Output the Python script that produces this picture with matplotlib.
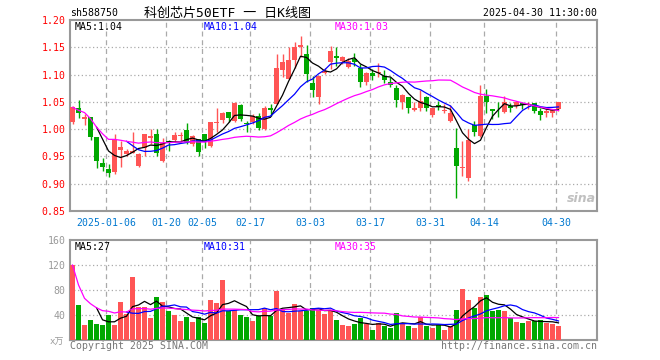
import matplotlib
matplotlib.use("Agg")
import matplotlib.pyplot as plt
import numpy as np
import pandas as pd

# trading days 2024-12-26 .. 2025-04-30
holidays = ['2025-01-01', '2025-01-28', '2025-01-29', '2025-01-30', '2025-01-31',
            '2025-02-03', '2025-02-04', '2025-04-04']
days = pd.bdate_range('2024-12-26', '2025-04-30')
days = days[~days.isin(pd.to_datetime(holidays))]

opens = [1.013, 1.038, 1.019, 1.022, 0.986, 0.938, 0.927, 0.921, 0.962, 0.955,
         0.957, 0.933, 0.965, 0.983, 0.991, 0.941, 0.979, 0.9805, 0.987, 0.998,
         0.972, 0.982, 0.991, 0.9695, 1.0116, 1.0165, 1.0317, 1.0152, 1.044, 1.0116,
         1.0122, 1.0232, 1.000, 1.039, 1.0463, 1.109, 1.092, 1.1274, 1.150, 1.1378,
         1.0841, 1.0585, 1.1024, 1.1226, 1.1335, 1.1256, 1.1134, 1.1287, 1.1116, 1.0859,
         1.103, 1.1031, 1.098, 1.0859, 1.0755, 1.049, 1.0583, 1.0356, 1.038, 1.0583,
         1.0264, 1.0442, 1.0337, 1.0153, 0.965, 0.929, 0.911, 1.0073, 0.987, 1.0604,
         1.0378, 1.0427, 1.031, 1.042, 1.042, 1.047, 1.044, 1.047, 1.033, 1.030,
         1.030, 1.036]
highs = [1.042, 1.053, 1.027, 1.022, 0.986, 0.948, 0.936, 0.992, 0.979, 0.963,
         0.995, 0.956, 0.992, 1.000, 1.000, 0.984, 0.980, 0.994, 0.995, 1.011,
         0.989, 0.982, 0.991, 1.0134, 1.0396, 1.0317, 1.0317, 1.050, 1.046, 1.015,
         1.0275, 1.029, 1.0415, 1.0463, 1.1378, 1.1378, 1.150, 1.159, 1.170, 1.1543,
         1.0982, 1.0982, 1.1116, 1.153, 1.150, 1.1335, 1.130, 1.1396, 1.1195, 1.104,
         1.1104, 1.1209, 1.1086, 1.095, 1.0816, 1.0644, 1.0595, 1.049, 1.0718, 1.060,
         1.0387, 1.051, 1.046, 1.0448, 1.0018, 0.978, 1.0006, 1.0146, 1.0805, 1.0738,
         1.0378, 1.0494, 1.0616, 1.047, 1.051, 1.050, 1.049, 1.047, 1.038, 1.036,
         1.037, 1.050]
lows = [1.010, 1.021, 1.008, 0.980, 0.928, 0.924, 0.912, 0.918, 0.931, 0.951,
        0.957, 0.931, 0.950, 0.972, 0.950, 0.940, 0.960, 0.9756, 0.977, 0.9726,
        0.9695, 0.951, 0.9646, 0.968, 0.9939, 1.0104, 1.0134, 1.014, 1.0152, 0.9939,
        1.009, 0.9988, 0.9988, 1.0238, 1.046, 1.095, 1.092, 1.1116, 1.1317, 1.086,
        1.0598, 1.0463, 1.101, 1.110, 1.1165, 1.1195, 1.1116, 1.1165, 1.0768, 1.0816,
        1.0908, 1.0963, 1.084, 1.0767, 1.041, 1.0368, 1.0294, 1.0337, 1.0337, 1.0337,
        1.0227, 1.035, 1.0294, 1.0135, 0.873, 0.914, 0.905, 0.987, 0.986, 1.0299,
        1.019, 1.0226, 1.0299, 1.031, 1.039, 1.037, 1.037, 1.030, 1.0165, 1.0226,
        1.0226, 1.034]
closes = [1.040, 1.029, 1.022, 0.986, 0.942, 0.930, 0.920, 0.981, 0.967, 0.960,
          0.960, 0.955, 0.991, 0.988, 0.956, 0.974, 0.976, 0.989, 0.988, 0.977,
          0.988, 0.959, 0.977, 1.0134, 1.014, 1.0293, 1.0213, 1.0476, 1.018, 1.0098,
          1.0232, 1.0018, 1.0384, 1.0354, 1.112, 1.1238, 1.127, 1.150, 1.155, 1.1012,
          1.0726, 1.0982, 1.1073, 1.1439, 1.130, 1.1317, 1.1256, 1.1226, 1.0872, 1.103,
          1.098, 1.1043, 1.0908, 1.0816, 1.054, 1.0626, 1.038, 1.0387, 1.0509, 1.038,
          1.0387, 1.0399, 1.035, 1.0294, 0.9325, 0.930, 0.981, 0.9945, 1.0604, 1.0494,
          1.033, 1.0415, 1.0494, 1.039, 1.050, 1.044, 1.0463, 1.033, 1.0256, 1.034,
          1.036, 1.050]
# volume, 万
volumes = [120, 56, 24, 32, 25.6, 24, 40, 24, 61, 41,
           101, 53, 53, 35, 69, 61, 47, 40, 31, 37,
           29, 37, 27, 64, 59, 96, 47, 48, 40, 37,
           30, 38, 51, 38, 79, 48, 43, 57, 46, 47,
           52, 48, 42, 48, 32, 24, 22.4, 25.6, 35, 25.6,
           16, 27, 22.4, 19, 43, 25.6, 22.4, 19, 37, 22,
           19, 24, 16, 22.4, 48, 81.6, 64, 51, 69, 72,
           46, 48, 46, 35, 29, 27, 31, 30, 32, 27,
           25.6, 22.4]

tick_dates = ['2025-01-06', '2025-01-20', '2025-02-05', '2025-02-17', '2025-03-03',
              '2025-03-17', '2025-03-31', '2025-04-14', '2025-04-30']
tick_labels = ['2025-01-06', '01-20', '02-05', '02-17', '03-03', '03-17', '03-31', '04-14', '04-30']
price_ticks = [0.85, 0.90, 0.95, 1.00, 1.05, 1.10, 1.15, 1.20]
vol_ticks = [40, 80, 120, 160]
price_ma_text = ['MA5:1.04', 'MA10:1.04', 'MA30:1.03']
vol_ma_text = ['MA5:27', 'MA10:31', 'MA30:35']

RED = '#FF5555'
GREEN = '#00A800'
GRAY = '#999999'
MONO = 'DejaVu Sans Mono'
FS = 7.1

o = np.array(opens); h = np.array(highs); l = np.array(lows); c = np.array(closes)
v = np.array(volumes)
x = np.arange(len(c))
up = c >= o
cols = np.where(up, RED, GREEN)

pc = pd.Series(c)
ma5 = pc.rolling(5).mean()
ma10 = pc.rolling(10).mean()
ma30 = pc.rolling(30, min_periods=1).mean()
pv = pd.Series(v)
vma5 = pv.rolling(5).mean()
vma10 = pv.rolling(10).mean()
vma30 = pv.rolling(30, min_periods=1).mean()

tick_idx = [int(np.where(days == pd.Timestamp(d))[0][0]) - 0.42 for d in tick_dates]

W, H = 660, 360
fig = plt.figure(figsize=(6.6, 3.6), dpi=100)
ax = fig.add_axes([70 / W, 1 - 211 / H, 527 / W, 191 / H])
axv = fig.add_axes([70 / W, 1 - 340 / H, 527 / W, 100 / H])

xl = (-0.42, 87.42)

# candles
ax.vlines(x, l, h, colors=cols, linewidth=1, zorder=2)
body = np.maximum(np.abs(c - o), 0.0015)
ax.bar(x, body, bottom=np.minimum(o, c), width=0.83, color=cols, linewidth=0, zorder=3)
ax.plot(x, ma5, color='black', lw=0.9, zorder=4)
ax.plot(x, ma10, color='#0000FF', lw=0.9, zorder=4)
ax.plot(x, ma30, color='#FF00FF', lw=0.9, zorder=4)
ax.set_xlim(*xl)
ax.set_ylim(0.85, 1.20)
ax.set_yticks(price_ticks)
ax.set_yticklabels(['%.2f' % t for t in price_ticks], color='red', family=MONO, fontsize=FS)
for t in price_ticks[1:-1]:
    ax.axhline(t, color='#aaaaaa', lw=0.9, ls=(0, (1, 2)), zorder=1)
for t in tick_idx:
    ax.axvline(t, color='#aaaaaa', lw=0.9, ls=(0, (4, 3)), zorder=1)
ax.set_xticks(tick_idx)
ax.set_xticklabels(tick_labels, color='#0078D0', family=MONO, fontsize=FS)
ax.tick_params(length=0, pad=3)
ax.tick_params(axis='x', pad=5)

# volume
axv.bar(x, v, width=0.83, color=cols, linewidth=0, zorder=3)
axv.plot(x, vma5, color='black', lw=0.9, zorder=4)
axv.plot(x, vma10, color='#0000FF', lw=0.9, zorder=4)
axv.plot(x, vma30, color='#FF00FF', lw=0.9, zorder=4)
axv.set_xlim(*xl)
axv.set_ylim(0, 160)
axv.set_yticks(vol_ticks)
axv.set_yticklabels([str(t) for t in vol_ticks], color=GRAY, family=MONO, fontsize=FS)
for t in vol_ticks[:-1]:
    axv.axhline(t, color='#aaaaaa', lw=0.9, ls=(0, (1, 2)), zorder=1)
for t in tick_idx:
    axv.axvline(t, color='#aaaaaa', lw=0.9, ls=(0, (4, 3)), zorder=1)
axv.set_xticks([])
axv.tick_params(length=0, pad=3)

for a in (ax, axv):
    for s in a.spines.values():
        s.set_color(GRAY)
        s.set_linewidth(1.5)

# texts
def ftext(px, py, s, **kw):
    fig.text(px / W, 1 - py / H, s, va='center', **kw)

ftext(70, 13, 'sh588750', family=MONO, fontsize=FS, color='black')
ftext(228, 13, '科创芯片50ETF 一 日K线图', family=[MONO, 'Noto Sans CJK SC'],
      fontsize=9.4, color='black', ha='center')
ftext(597, 13, '2025-04-30 11:30:00', family=MONO, fontsize=FS, color='black', ha='right')
for px, s, col in zip([75, 204, 335], price_ma_text, ['black', '#0000FF', '#FF00FF']):
    ftext(px, 27, s, family=MONO, fontsize=FS, color=col)
for px, s, col in zip([75, 204, 335], vol_ma_text, ['black', '#0000FF', '#FF00FF']):
    ftext(px, 247, s, family=MONO, fontsize=FS, color=col)
ftext(64, 342, 'x万', family=[MONO, 'Noto Sans CJK SC'], fontsize=6.5, color=GRAY, ha='right')
ftext(70, 346, 'Copyright 2025 SINA.COM', family=MONO, fontsize=FS, color='#777777')
ftext(597, 346, 'http://finance.sina.com.cn', family=MONO, fontsize=FS, color='#777777', ha='right')
ftext(596, 199, 'sina', fontsize=9, color='#c0c0c0', ha='right', style='italic', weight='bold')

fig.savefig('out.png', dpi=100)
